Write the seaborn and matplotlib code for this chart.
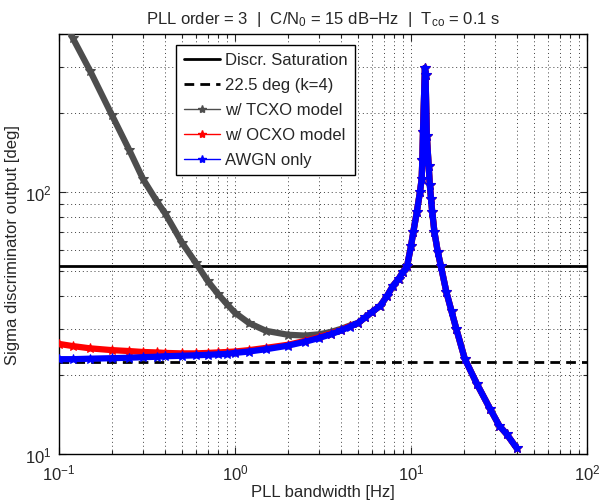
"""
Sigma of the PLL discriminator output vs. loop bandwidth for a 3rd order PLL
(C/N0 = 15 dB-Hz, Tco = 0.1 s), with TCXO / OCXO clock models and AWGN only.
"""

import numpy as np
import pandas as pd
import matplotlib
matplotlib.use("Agg")
import matplotlib.pyplot as plt
import seaborn as sns
from matplotlib.lines import Line2D
from matplotlib.ticker import NullFormatter


# bandwidths where the three models differ [Hz]
low_bw = [0.10, 0.12, 0.15, 0.20, 0.25, 0.30, 0.36, 0.40, 0.50, 0.60, 0.70,
          0.80, 0.90, 1.0, 1.2, 1.5, 2.0, 2.5, 3.0, 3.5, 4.0, 4.5]
tcxo_low = [510, 385, 290, 196, 145, 112, 92, 83, 64, 53.5, 45.7,
            40.8, 37.3, 34.6, 31.6, 29.5, 28.5, 28.3, 28.6, 29.2, 30.0, 30.9]
ocxo_low = [26.3, 25.8, 25.3, 24.9, 24.7, 24.5, 24.4, 24.3, 24.2, 24.2, 24.3,
            24.4, 24.5, 24.6, 24.9, 25.4, 26.1, 27.0, 27.9, 28.8, 29.7, 30.7]
awgn_low = [23.0, 23.0, 23.1, 23.2, 23.3, 23.4, 23.5, 23.6, 23.7, 23.8, 23.9,
            24.0, 24.1, 24.3, 24.6, 25.1, 25.9, 26.8, 27.7, 28.6, 29.6, 30.6]

# bandwidths where all three curves coincide [Hz]
common_bw = [5.0, 5.5, 6.0, 6.7, 7.3, 7.9, 8.5, 9.0, 9.5, 10.0, 10.3, 10.8,
             11.25, 11.5, 11.6, 11.7, 12.0, 12.1, 12.3, 12.6, 12.8, 13.0, 13.2,
             13.6, 14.2, 14.8, 15.9, 17.0, 18.1, 20.2, 23.7, 28.1, 31.8, 35.0,
             40.0]
common_sigma = [31.6, 33.2, 34.8, 36.8, 40.0, 43.8, 46.5, 49.5, 52.0, 62.0,
                70.0, 84.0, 100, 112, 132, 169, 297, 278, 164, 126, 106, 94,
                84, 70, 59, 52, 41.4, 35.0, 30.0, 23.1, 18.5, 14.9, 12.8, 11.9,
                10.5]

saturation_deg = 51.96
threshold_deg = 22.5

model_names = ["w/ TCXO model", "w/ OCXO model", "AWGN only"]
model_low = [tcxo_low, ocxo_low, awgn_low]
model_colors = ["#4d4d4d", "#ff0000", "#0000ff"]


frames = []
for name, low in zip(model_names, model_low):
    frames.append(pd.DataFrame({
        "bw": low_bw + common_bw,
        "sigma": low + common_sigma,
        "model": name
    }))
df = pd.concat(frames, ignore_index=True)


sns.set_style("ticks")
plt.rcParams["font.family"] = ["Liberation Sans", "DejaVu Sans"]
plt.rcParams["mathtext.default"] = "regular"
plt.rcParams["font.size"] = 12

fig = plt.figure(figsize=(6, 5.02), dpi=100)
ax = fig.add_axes([0.0983, 0.0936, 0.88, 0.8367])

dash = (0, (3.5, 2.2))
ax.axhline(saturation_deg, color="k", lw=2, zorder=2)
ax.axhline(threshold_deg, color="k", lw=2, linestyle=dash, zorder=2)

for name, color in zip(model_names, model_colors):
    sns.lineplot(
        data=df[df["model"] == name],
        x="bw",
        y="sigma",
        color=color,
        lw=4.5,
        marker="*",
        markersize=7,
        markeredgecolor=color,
        sort=False,
        estimator=None,
        ax=ax,
        zorder=3
    )

ax.set_xscale("log")
ax.set_yscale("log")
ax.set_xlim(0.1, 100)
ax.set_ylim(10, 400)
ax.yaxis.set_minor_formatter(NullFormatter())
ax.xaxis.set_minor_formatter(NullFormatter())

ax.grid(True, which="both", color="#404040", linestyle=(0, (1, 3)), lw=0.7)
ax.tick_params(which="both", direction="in", top=True, right=True,
               labelsize=12, width=0.8)
ax.tick_params(axis="x", which="both", pad=6)
ax.tick_params(axis="y", which="both", pad=5)
ax.tick_params(which="major", length=5)
ax.tick_params(which="minor", length=3)
for spine in ax.spines.values():
    spine.set_color("k")
    spine.set_linewidth(1.0)

ax.set_xlabel("PLL bandwidth [Hz]", fontsize=12, labelpad=1)
ax.set_ylabel("Sigma discriminator output [deg]", fontsize=12, labelpad=4)
ax.set_title("PLL order = 3  |  C/N$_0$ = 15 dB\u2212Hz  |  T$_{co}$ = 0.1 s",
             fontsize=12, pad=8)

handles = [
    Line2D([], [], color="k", lw=2, label="Discr. Saturation"),
    Line2D([], [], color="k", lw=2, linestyle=dash, label="22.5 deg (k=4)"),
]
for name, color in zip(model_names, model_colors):
    handles.append(Line2D([], [], color=color, lw=1, marker="*",
                          markersize=6, label=name))

leg = ax.legend(
    handles=handles,
    loc="upper left",
    bbox_to_anchor=(0.222, 0.974),
    borderaxespad=0,
    fancybox=False,
    edgecolor="k",
    framealpha=1,
    handlelength=2.2,
    handletextpad=0.3,
    labelspacing=0.6,
    borderpad=0.45,
    fontsize=12
)
leg.get_frame().set_linewidth(1.0)

plt.savefig("out.png", dpi=100)
plt.close()
